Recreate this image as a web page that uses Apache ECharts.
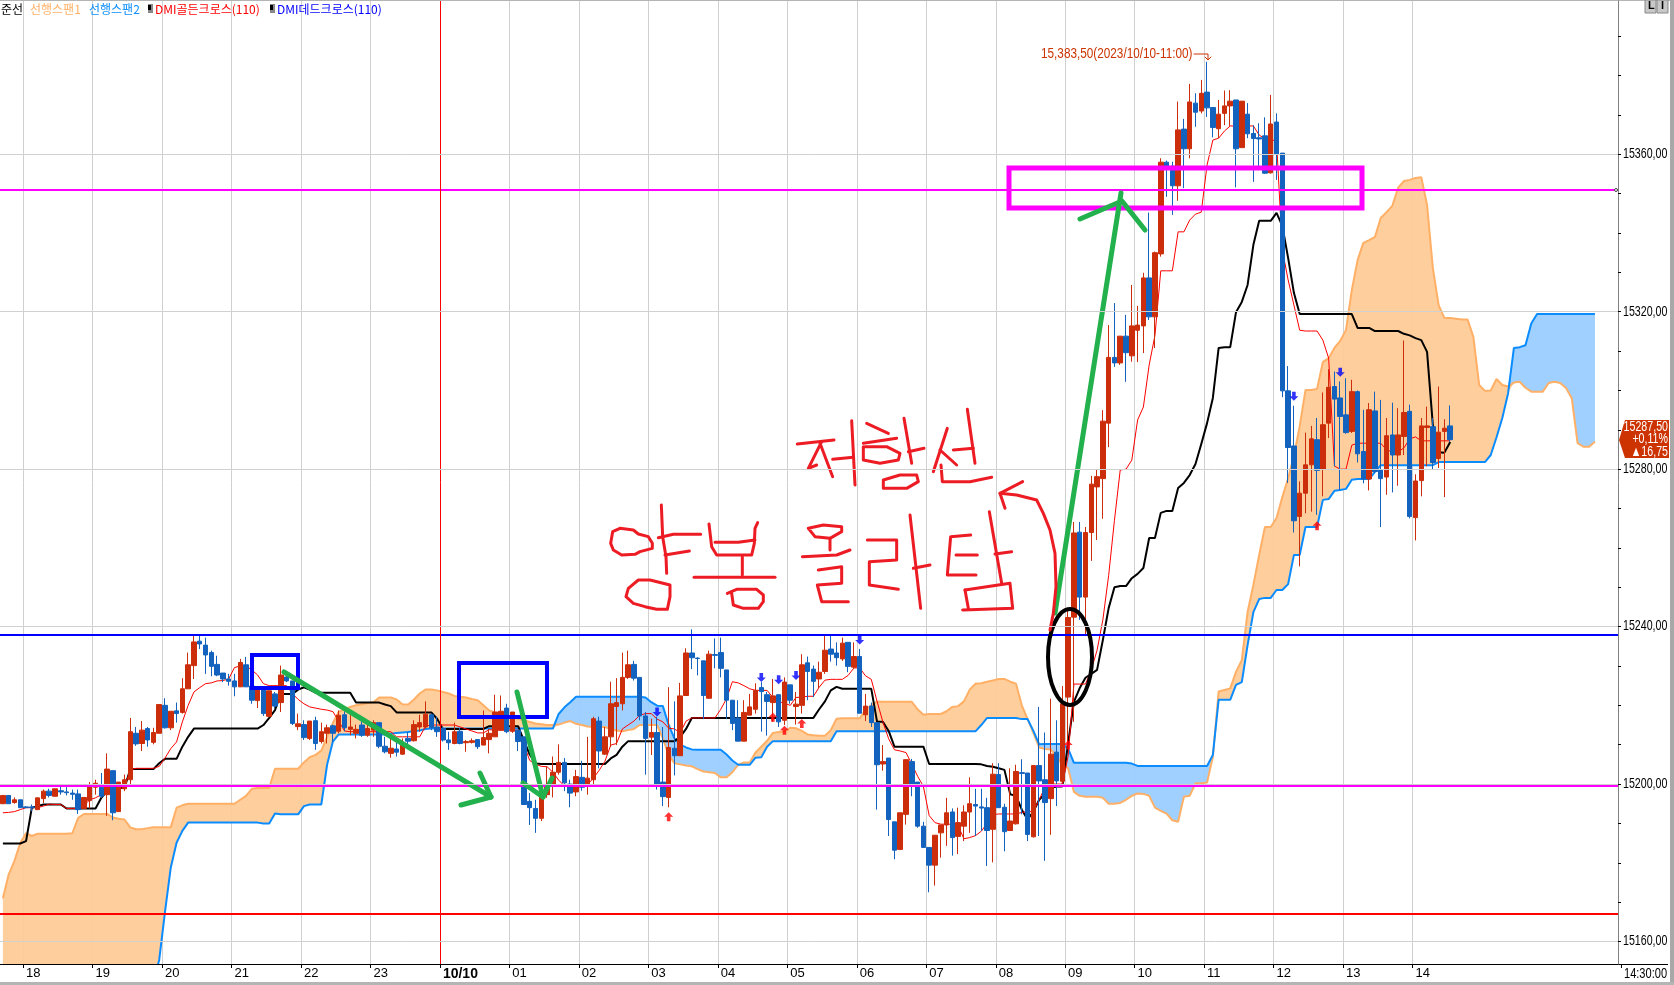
<!DOCTYPE html>
<html><head><meta charset="utf-8">
<style>html,body{margin:0;padding:0;background:#fff}#c{width:1674px;height:985px}</style>
<script src="https://cdn.jsdelivr.net/npm/echarts@6/dist/echarts.min.js"></script>
</head><body><div id="c"></div>
<script>
const tickLabels=['18','19','20','21','22','23','10/10','01','02','03','04','05','06','07','08','09','10','11','12','13','14'];
const priceLabels=[15160,15200,15240,15280,15320,15360];
const minorTicks=[15160,15170,15180,15190,15200,15210,15220,15230,15240,15250,15260,15270,15280,15290,15300,15310,15320,15330,15340,15350,15360,15370,15380,15390];
const hLines=[[15237.9,'#0000ff'],[15351,'#ff00ff'],[15199.5,'#ff00ff'],[15167,'#ff0000']];
const upArrows=[[115,15191.7],[133,15217],[135,15213.7],[138,15215.4],[184,15209.9],[227,15265.6]];
const downArrows=[[113,15218.3],[131,15227.1],[134,15226.5],[137,15227.6],[148,15236.6],[223,15298.5],[231,15304.6]];
// open, close, low, high
const candles=[
[15195,15197.1,15195,15197.1],[15197.1,15195,15195,15197.1],[15195.3,15196,15195,15196.6],[15196,15194,15194,15196],[15194.2,15194,15193.9,15194.4],
[15194.2,15194,15193.1,15194.8],[15193.5,15196.5,15193.5,15196.5],[15196.3,15198.2,15195.2,15198.6],[15198.2,15197.1,15196.6,15198.8],[15196.9,15198.8,15196.9,15198.8],
[15198.3,15198,15197.3,15199.4],[15198,15197.8,15197.1,15199.2],[15197.7,15197.4,15196,15198.6],[15197.5,15193.5,15192.4,15198.6],[15193.8,15196.6,15193.8,15196.6],
[15195.8,15199.4,15193.8,15200.5],[15199.2,15200.2,15197.3,15201.1],[15199.2,15196.9,15196.5,15202.8],[15197.3,15203.8,15191.9,15207.8],[15203.4,15192.7,15190.8,15203.4],
[15193,15200.5,15193,15200.5],[15198.8,15201.1,15198.2,15202.4],[15201.1,15213.3,15200,15216.8],[15212.9,15210.2,15209.7,15214.5],[15210.3,15213.7,15208.4,15216],
[15214.1,15211.2,15209.5,15214.5],[15210.6,15213.1,15210.1,15214.3],[15212.9,15220.2,15212.9,15220.2],[15220,15214.3,15214.1,15221.8],[15214.3,15218.5,15213.7,15218.5],
[15218.6,15217.9,15215.6,15220.7],[15218.2,15224.2,15217.9,15226.9],[15224.2,15230.3,15224.2,15233.4],[15230.1,15236.1,15226.7,15237.6],[15236.3,15235.6,15234.3,15237.6],
[15235.3,15232.8,15228,15237.2],[15233.4,15229.9,15227.4,15233.9],[15230.4,15227.7,15227.4,15232.6],[15228.2,15226.7,15225.9,15228.2],[15226.7,15226.1,15225,15228],
[15226.2,15224.7,15222.3,15228],[15224.7,15230.9,15224.7,15231.8],[15230.3,15224.7,15224.7,15232.3],[15224.9,15221.3,15220.4,15224.9],[15221.2,15224.4,15219.3,15224.4],
[15224.2,15217.9,15217.3,15224.2],[15217.2,15223.7,15217,15223.7],[15222.9,15219.8,15219.2,15223.4],[15220.7,15227.7,15218.3,15230.1],[15227.2,15226.2,15225.9,15228],
[15226.2,15215.4,15215,15226.2],[15214.6,15215.3,15213.7,15217.9],[15215.1,15211.8,15211.2,15216.2],[15211.6,15216,15211.2,15216],[15216.1,15210.3,15208.7,15217.1],
[15210.8,15213.3,15210.3,15215.6],[15212.9,15214.3,15210.3,15215.1],[15214.8,15212.9,15210.6,15215.1],[15213.4,15217.5,15212.9,15218.7],[15217.6,15214.3,15213.4,15218.5],
[15213.9,15214.5,15212.4,15217.5],[15212.9,15213.9,15211.6,15215.1],[15215,15212.4,15212,15216.2],[15212.4,15214.1,15212,15215.4],[15213.7,15215.6,15212,15216.2],
[15215.6,15209.6,15209.1,15215.6],[15209.6,15208.2,15207.8,15212],[15207.8,15209.1,15206.7,15212],[15208.9,15208.1,15207,15211.6],[15207.6,15209.9,15207.4,15211.6],
[15211.6,15210.9,15209.9,15213.3],[15211,15215.1,15210.8,15216.2],[15214.5,15215.6,15213.3,15217.6],[15214.5,15217.7,15214.1,15221],[15217.6,15214.3,15213.7,15217.9],
[15214.5,15213.3,15212,15217.1],[15214.1,15211.2,15210.8,15214.5],[15211.2,15210.5,15208.7,15213.3],[15210.3,15213.3,15210.1,15215.6],[15213.4,15210.3,15210.1,15214.3],
[15210.5,15210.8,15208.2,15211.2],[15210.6,15211,15210.3,15211.6],[15211.3,15209.5,15208.9,15211.3],[15209.9,15211.8,15209.9,15218.7],[15211.3,15212.9,15207.8,15214],
[15212,15218.3,15212,15222.7],[15213.7,15218.5,15213.7,15222.5],[15219.3,15213.3,15212.9,15220.4],[15213.4,15218.3,15213,15218.3],[15213.7,15210.8,15208.4,15213.7],
[15212,15194.8,15194.8,15212],[15195.6,15194,15189.6,15197.7],[15193.8,15191.3,15187.6,15196],[15191.3,15197.3,15190.6,15199.8],[15197.3,15199.4,15196.5,15204.5],
[15199.8,15203,15196.6,15207],[15203,15205.5,15202.4,15210.1],[15205.5,15200.3,15198.2,15206.6],[15200,15197.7,15194.1,15201.1],[15198,15201.9,15196.9,15203.6],
[15201.7,15199.2,15198.3,15205.9],[15199.7,15201.5,15197.3,15212],[15201.1,15216.6,15200,15217.1],[15216,15208.4,15204,15217.1],[15207.6,15212,15207.4,15214.5],
[15212,15220.4,15209.5,15226],[15219.7,15220.7,15209.9,15226.9],[15220.4,15227.1,15218.7,15233.4],[15227.1,15230.3,15226.7,15233.9],[15230.4,15226.9,15226.3,15231.3],
[15227.1,15217.3,15216.2,15227.1],[15217.3,15211.6,15202.4,15218.3],[15211.9,15213.1,15207.4,15216.6],[15213.1,15200,15198.6,15217.1],[15200.5,15196.8,15194.4,15214.5],
[15196.6,15209.3,15194.1,15224.6],[15209.1,15207.2,15202.2,15221],[15207.2,15222.4,15207.2,15225.7],[15222.5,15233.3,15222.5,15234.5],[15233.3,15232.1,15229.2,15239.3],
[15232,15231.9,15227.6,15232.2],[15231.3,15222.5,15216.5,15231.3],[15221.8,15233,15221.7,15233.9],[15232.9,15232.7,15229.4,15237],[15233.4,15229.4,15227.1,15237.2],
[15229,15221.3,15216.5,15229],[15221.3,15215.4,15213.7,15221.3],[15216.8,15210.9,15210.9,15221.3],[15210.9,15218.2,15210.9,15221.3],[15217.5,15219.6,15217.5,15222.9],
[15219,15223.8,15217.9,15225.6],[15224.5,15223.5,15213.3,15225.9],[15222.7,15221,15212.3,15223.4],[15220.7,15222.4,15215.8,15226.7],[15222.7,15215.8,15214.5,15222.7],
[15216.2,15225.9,15215,15227.1],[15225.2,15221.3,15220.4,15225.2],[15219.7,15220.3,15215.1,15223.4],[15220,15230.3,15217.9,15233],[15230.8,15228.6,15221.3,15232.4],
[15229.2,15226.1,15222.1,15230.1],[15226.7,15228.4,15224.4,15231.1],[15228.6,15234,15228,15237.6],[15234.3,15233,15231.1,15237.6],[15233.3,15232.1,15230.1,15236],
[15231.8,15235.8,15231.3,15237.2],[15236,15229.9,15228.4,15236],[15229.7,15232.4,15229.2,15236],[15232.4,15218,15218,15234.3],[15217.6,15219.8,15216,15222.9],
[15219.8,15215.6,15214.5,15220.7],[15215.6,15204.9,15193.5,15215.6],[15205.1,15205.7,15203.4,15209.9],[15206.6,15191,15186.8,15206.6],[15190.4,15183.2,15180.9,15190.4],
[15183.4,15192.7,15183.2,15192.7],[15192.3,15206.2,15189.7,15206.2],[15205.7,15199.7,15196.9,15206.4],[15200.5,15189.3,15188.9,15200.5],[15189.3,15183.9,15183.9,15190.4],
[15183.9,15179.4,15172.5,15183.9],[15179.4,15187,15174.2,15187],[15187.6,15189.6,15181.3,15189.6],[15189.6,15192.7,15184.3,15196.5],[15192.9,15186.4,15181.8,15193.8],
[15186.7,15190.2,15182.2,15194],[15189.3,15192.9,15185.5,15194.6],[15192.9,15195,15187.6,15201.7],[15194.8,15194.4,15186.8,15198.8],[15194.2,15193.9,15188.1,15198.8],
[15194,15188.2,15179.2,15196.5],[15188.5,15202.5,15180.1,15205.3],[15202.4,15194,15194,15205.3],[15194.1,15187.9,15182.9,15195],[15188.2,15190.6,15188.1,15204],
[15189.9,15203.2,15189.7,15204.9],[15202.9,15202.7,15192.3,15206.3],[15202.8,15187.2,15185.5,15202.8],[15186.6,15204.7,15186.4,15204.7],[15204.7,15200.8,15186.8,15219.6],
[15201.1,15195.3,15180.5,15213.1],[15196.3,15207.6,15187.1,15221.7],[15208.1,15200.8,15194.4,15216.2],[15200.7,15220.4,15200.3,15224.9],[15222.1,15242.3,15209.9,15244.4],
[15242.4,15263.8,15215.8,15266.6],[15264,15247.5,15241.7,15266.6],[15247.5,15263.9,15237.9,15265.3],[15263.9,15276.2,15256.7,15278.3],[15275.5,15278.1,15262,15280],
[15277.6,15292.2,15267.4,15295],[15291.7,15308.4,15285.6,15316.6],[15308.4,15307,15306,15322.2],[15307,15313.8,15306.5,15313.8],[15313.8,15309.6,15302.2,15319.2],
[15308.8,15316.4,15307.3,15326.8],[15315.3,15316.6,15307.2,15321.5],[15316.4,15328.6,15309.5,15329.9],[15328.6,15318.7,15317.9,15345.2],[15318.7,15335,15310.8,15335.3],
[15334.7,15358,15334,15359],[15358,15357,15349.2,15358.4],[15357,15352,15344.6,15358.1],[15352,15366.2,15348.2,15373.4],[15366.4,15361.4,15351.4,15369],
[15361.4,15373.3,15359,15377.9],[15373,15370.7,15367,15375.5],[15371,15375.5,15370.4,15378.9],[15375.8,15371.8,15369.5,15383.5],[15371.9,15366.8,15364.3,15371.9],
[15366.5,15370.2,15364.1,15373.8],[15370.4,15372.3,15367.4,15376.2],[15372.3,15373.5,15367.2,15376.3],[15373.8,15361.4,15351.6,15373.8],[15361.7,15373.5,15361.7,15373.5],
[15370.2,15365.2,15364.1,15373],[15365.3,15364,15353,15367.4],[15364.2,15363.9,15356,15367.9],[15364.7,15355.2,15355,15369.4],[15355.3,15367.7,15355.1,15375.1],
[15368.2,15360.1,15353.5,15370.4],[15360.3,15299.9,15298.3,15360.3],[15299.9,15285.5,15276.5,15306.2],[15285.9,15266.9,15263.9,15296.1],[15268,15273.9,15255.3,15276.9],
[15273.9,15281.1,15268.8,15289.3],[15281.1,15287.7,15269.2,15291],[15287.5,15279.7,15268.4,15293],[15280,15291.3,15273.1,15299.5],[15291.7,15300.8,15287.9,15305.4],
[15301,15297.8,15280.7,15304.8],[15298.1,15293.4,15274.7,15302.3],[15293.8,15289.3,15289,15303.1],[15289.6,15299.7,15289.2,15302.7],[15299.7,15283.9,15281.7,15300],
[15284.5,15277.5,15276.4,15295.1],[15277.5,15295.1,15274.6,15296.8],[15294.8,15279.4,15279,15299.7],[15279.8,15277.6,15265.3,15297.6],[15278,15288.5,15273.5,15293],
[15288.7,15283.6,15274.1,15296.9],[15283.6,15288.7,15275.8,15295.5],[15288.3,15294.4,15283.6,15312.7],[15294.7,15268,15267.5,15296.4],[15267.7,15277,15261.9,15278.7],
[15277.1,15291,15273.1,15293],[15290.6,15291,15280.7,15295.9],[15290.8,15281.7,15280,15293],[15282.7,15289.4,15280.3,15301],[15289.6,15290.4,15272.9,15292.7],
[15291,15287.5,15287,15296.2]];
const senkou1=[
15171,15177,15180.5,15185,15187.5,15186.8,15187.4,15187.4,15187.4,15187.4,
15187.4,15187.4,15187.5,15191.4,15192.4,15192.4,15192.4,15192.4,15192.4,15191.5,
15191.2,15191,15189,15188.5,15188.5,15188.8,15189,15189,15189,15189,
15194,15194.6,15195,15195,15195,15195,15195,15195,15195,15195,
15195,15196,15197,15198.8,15199,15199,15199,15203.9,15203.9,15203.9,
15203.9,15203.9,15205.5,15206.8,15207.4,15208.5,15212,15215.5,15218.3,15219,
15219.6,15220,15220.3,15220.6,15220.8,15222,15222,15222,15221.5,15220.3,
15220.2,15221.5,15223,15224,15224,15223.8,15223.4,15223,15222.4,15222.2,
15222,15221.6,15221.3,15220,15218.7,15218.2,15218,15217.5,15217,15216.6,
15216.2,15215.8,15215.4,15215.2,15215,15215,15215.1,15215.6,15216,15215.3,
15215,15214.6,15214.5,15214.5,15214.5,15214,15213.6,15213.4,15213.7,15214,
15215,15215,15215,15215,15211.6,15207.4,15205.3,15205,15204.7,15204.5,
15203.8,15203.2,15203,15202.8,15201.7,15201.7,15203,15204.9,15205.5,15205.5,
15208,15209.5,15211,15213,15213.2,15213.4,15214.3,15214.2,15213.5,15212.6,
15212.4,15212.3,15212.3,15213.7,15216.6,15216.7,15216.7,15216.7,15216.7,15218.8,
15220,15221,15220.9,15220.9,15220.9,15220.9,15220.9,15220.9,15219,15217.6,
15217.8,15217.8,15217.8,15218.5,15219.6,15219.8,15221,15224,15225.5,15225.6,
15226,15226.3,15226.7,15226.7,15226,15225.5,15220,15216.5,15213,15209.3,
15208.9,15208.8,15207,15205,15204,15198,15197,15196.8,15196.8,15196.8,
15196.5,15195,15195,15195.2,15196,15197,15197.6,15197.5,15197,15194,
15193.2,15192.5,15190.8,15190.4,15196.8,15197,15200.2,15200.2,15200.4,15206.9,
15223.5,15223.9,15224.3,15228.5,15231.5,15243.7,15250.6,15258.2,15265.3,15265.3,
15267.6,15272.9,15277.7,15283.3,15290.9,15300.1,15300.1,15300.4,15307.2,15308.2,
15310.8,15312.6,15315.4,15325.5,15333.1,15337.5,15338.2,15339,15343.8,15345.3,
15346.9,15351.5,15353.2,15353.5,15354,15354.2,15347.1,15331.1,15321.7,15318.4,
15318.4,15318.2,15318,15318,15313.6,15301.4,15299.9,15300,15302.9,15301.4,
15301,15302,15302.2,15300.7,15299.7,15299.7,15299.7,15301.9,15302.2,15301.9,
15300.6,15298,15286.6,15285.7,15285.7,15287];
const senkou2=[
15140,15140,15140,15140,15140,15140,15140,15140,15140,15140,
15140,15140,15140,15140,15140,15140,15140,15140,15140,15140,
15140,15140,15140,15140,15140,15140,15150,15155.3,15167.5,15178.8,
15185.1,15188.1,15190.2,15190.2,15190.2,15190.2,15190.2,15190.2,15190.2,15190.2,
15190.2,15190.2,15190.2,15190.2,15190.2,15190,15190,15192.5,15192.3,15192.3,
15192.3,15192.3,15194.4,15194.8,15194.8,15194.8,15204.9,15210.8,15212.6,15212.6,
15212.6,15212.6,15212.6,15212.6,15212.6,15212.6,15212.6,15212.8,15213,15213.1,
15213.2,15213.5,15213.6,15214,15214.1,15214.1,15214.1,15214.1,15214.1,15214.1,
15214.1,15214.1,15214.1,15214.1,15214.1,15214.1,15214.1,15214.1,15214.1,15214.1,
15214.1,15214.1,15214.1,15214.1,15214.1,15214.1,15217.8,15219.5,15220.8,15222.2,
15222.2,15222.2,15222.2,15222.2,15222.2,15222.2,15222.2,15222.2,15222.2,15222.2,
15222.2,15222,15220.8,15219.9,15219.8,15215,15211.6,15210,15209.3,15208.8,
15208.7,15208.7,15208.7,15208.7,15208.7,15207.5,15206,15204.9,15204.9,15204.9,
15206.7,15206.8,15209.5,15210.9,15210.9,15210.9,15210.9,15210.9,15210.9,15210.9,
15210.9,15210.9,15210.9,15210.9,15213.4,15213.4,15213.4,15213.4,15213.4,15213.4,
15213.4,15213.4,15213.4,15213.4,15213.4,15213.4,15213.4,15213.4,15213.4,15213.4,
15213.4,15213.4,15213.4,15213.4,15213.4,15213.4,15213.4,15213.4,15213.4,15215,
15216.8,15216.8,15216.8,15216.8,15216.8,15216.8,15216.5,15216.5,15213.5,15210.1,
15210.2,15210.2,15210.2,15210.2,15209,15205.4,15205.4,15205.4,15205.4,15205.4,
15205.4,15205.4,15205.4,15205.4,15205.4,15205.2,15204.6,15204.6,15204.6,15204.6,
15204.6,15204.6,15204.6,15204.6,15204.6,15204.6,15204.6,15204.6,15204.6,15207.4,
15221.4,15221.4,15221.4,15225.2,15225.9,15235.3,15243.7,15247,15247.3,15247.3,
15249.3,15249.3,15250.8,15258.2,15258.2,15265.3,15265.3,15265.3,15272.2,15272.4,
15274.5,15274.7,15275,15277.3,15277.5,15277.5,15277.5,15279.3,15281,15281,
15281,15281,15281,15281,15281,15281,15281,15281,15281.8,15281.8,
15281.8,15281.8,15281.8,15281.8,15281.8,15281.8,15281.8,15283.6,15288.1,15293,
15299.3,15310.8,15311,15311.5,15317,15319.4,15319.4,15319.4,15319.4,15319.4,
15319.4,15319.4,15319.4,15319.4,15319.4,15319.4];
const blackLine=[
15184.9,15184.9,15184.9,15184.9,15185.5,15194,15194.4,15194.8,15194.8,15194.8,
15194.8,15193.8,15193.8,15193.8,15193.8,15193.8,15193.8,15196.5,15198.2,15198.6,
15199,15199,15203.8,15203.8,15203.8,15203.8,15203.8,15205.3,15206.4,15206.4,
15206.4,15209.5,15212,15214.1,15214.1,15214.1,15214.1,15214.1,15214.1,15214.1,
15214.1,15214.1,15214.1,15214.1,15214.1,15215,15216.8,15218.8,15222.9,15222.9,
15222.9,15224,15224.6,15224,15223.2,15223.2,15223.2,15223.2,15223.2,15223.2,
15223.2,15220.7,15220.7,15220.7,15220.7,15220.7,15220.2,15219.8,15218.2,15218.2,
15218.2,15218.2,15218.2,15218.2,15218.2,15216.6,15214,15214,15214,15214,
15214,15214,15214,15214,15214.7,15214.7,15214.7,15214.7,15214.7,15214.7,
15211,15207.5,15205.2,15205.1,15205.1,15205.1,15205.1,15205.1,15205.1,15205.1,
15205.1,15205.1,15205.1,15205.1,15205.1,15206.5,15207.4,15209.5,15210.9,15210.9,
15210.9,15210.9,15210.9,15210.9,15210.9,15210.9,15210.9,15212,15214,15216.8,
15216.8,15216.8,15216.8,15216.8,15216.8,15216.8,15216.8,15216.8,15216.8,15216.8,
15216.8,15216.8,15216.8,15216.8,15216.8,15216.8,15216.8,15216.8,15216.8,15216.8,
15216.8,15219,15221,15223.8,15224.7,15224.2,15224.2,15224.2,15224.2,15224.2,
15224.2,15215.8,15215.8,15213.5,15209.5,15209.5,15209.5,15209.5,15209.5,15209.5,
15205.1,15205.1,15205.1,15205.1,15205.1,15205.1,15205.1,15205.1,15205.1,15205,
15204.6,15204.4,15204,15203.6,15197.4,15197,15193.5,15191,15193,15196,
15197.5,15199,15199.4,15199.4,15210.4,15220.9,15224.4,15227,15228,15229,
15236.6,15244.7,15250,15250.3,15250.3,15252.3,15253.4,15254.9,15262.5,15262.5,
15268.9,15269.4,15269.4,15275.2,15276.5,15278.5,15281.3,15286.4,15291.7,15298.1,
15310.8,15311,15311,15319.9,15322.5,15326.8,15337,15343.1,15343.1,15343.1,
15345.1,15341.8,15333.7,15324.8,15319.4,15319.4,15319.4,15319.4,15319.4,15319.4,
15319.4,15319.4,15319.4,15319.4,15315.9,15315.9,15315.9,15315.1,15315.1,15315.1,
15315.1,15315.1,15314.4,15314,15313.3,15312.8,15309.8,15291.2,15284.3,15284.2,15286.9];
const redLine=[
15192.7,15192.8,15193,15193.5,15194,15194,15194,15194.4,15194.9,15194.8,
15194.8,15193.8,15193.8,15193.8,15194.5,15196,15196.5,15197.3,15198.9,15199,
15199,15199,15203.7,15204,15204,15204,15204,15204.5,15206.6,15209,
15210.7,15215.8,15220,15223.4,15224.5,15225.5,15225.7,15226.2,15226.3,15226.7,
15229.6,15230,15230,15229,15227.7,15225.5,15225,15225,15225,15225,
15223,15221.5,15220.4,15219.6,15219.3,15219,15218.8,15218.4,15216,15213.5,
15213.3,15213.3,15213.3,15213.3,15213.3,15213.3,15213.3,15213.3,15212,15212,
15212,15212,15212,15214.7,15215,15215,15215,15215,15215,15214.5,
15214,15213.5,15213,15213,15213.8,15213.7,15213.7,15213.7,15213.7,15213.7,
15210,15206,15205,15204.5,15204.4,15203,15201,15199.5,15199.8,15199,
15199.5,15199.9,15201.5,15203.5,15205.8,15209.9,15210.3,15214,15215,15216,
15217.5,15217.9,15217.9,15216.5,15215.8,15214.2,15214,15213,15216,15216.8,
15216.8,15216.8,15216.8,15216.8,15219,15221.7,15226,15225.7,15225,15224.2,
15223.8,15223.8,15223.8,15222,15221,15220.5,15220,15222,15222.1,15222.3,
15222.3,15224.6,15226.4,15226.6,15226.6,15226.6,15227.6,15229.5,15229.5,15227.5,
15226.6,15221,15215.8,15211.5,15208.7,15208.4,15208,15205,15202,15199.4,
15192,15190.2,15189.8,15189.8,15189.8,15189.4,15186.1,15186.4,15186.9,15188,
15190,15192.2,15192.4,15192.4,15192.4,15192.4,15192.8,15193,15193,15196,
15199.2,15200,15200,15200,15207,15225.4,15225.4,15225.4,15229,15234,
15241.7,15253,15267,15279.8,15280,15282.3,15292.5,15295.8,15306.5,15314,
15330.4,15330.4,15330.4,15340.3,15340.3,15343.3,15344.8,15345.3,15357.3,15363.6,
15364.1,15365.9,15367.2,15367.2,15367.2,15367.2,15367.2,15364.9,15363.9,15363.7,
15363.4,15335.7,15328.1,15321.7,15315.3,15315.1,15315.1,15315.1,15312.8,15308.2,
15280.8,15280,15280,15286.1,15286.6,15286.6,15286.6,15286.6,15286.6,15284.9,
15284.4,15284.4,15285.4,15287.7,15288.2,15287.2,15287.2,15287.2,15287.2,15287.2,15287.2];

const BAR_COUNT=280, FIRST_TICK=4, PER_HOUR=12;
const isTick=i=>i>=FIRST_TICK&&(i-FIRST_TICK)%PER_HOUR===0&&(i-FIRST_TICK)/PER_HOUR<tickLabels.length;
const categories=Array.from({length:BAR_COUNT},(_,i)=>isTick(i)?tickLabels[(i-FIRST_TICK)/PER_HOUR]:'c'+i);
const cloudBase=senkou1.map((v,i)=>Math.min(v,senkou2[i]));
const cloudUp=senkou1.map((v,i)=>Math.max(v-senkou2[i],0));
const cloudDown=senkou1.map((v,i)=>Math.max(senkou2[i]-v,0));
const SANS="'Liberation Sans',sans-serif";
const KR="'Noto Sans CJK KR',sans-serif";
const HAND='#ed1c24', GREEN='#22b14c';
const poly=(pts,color,w,z)=>({type:'polyline',z:z||8,shape:{points:pts},style:{stroke:color,fill:null,lineWidth:w,lineJoin:'round',lineCap:'round'},silent:true});
const txt=(x,y,s,color,extra)=>Object.assign({type:'text',x,y,z:9,silent:true,style:Object.assign({text:s,fill:color,font:"12px "+KR,textVerticalAlign:'middle'},extra&&extra.style||{})},extra&&extra.el||{});
const strokes3x=[
[[172,132],[282,120]],[[245,125],[205,205],[230,195]],[[240,130],[278,230]],[[278,178],[340,172]],[[335,62],[345,255]],
[[380,70],[445,100]],[[370,130],[470,115]],[[375,140],[440,140],[480,160],[475,180],[420,190],[370,180],[370,140]],[[492,55],[515,190]],[[505,155],[552,145]],[[430,240],[480,225],[530,225],[535,245],[500,265],[430,265],[430,240]],
[[622,85],[580,215]],[[600,150],[650,195]],[[640,150],[700,145]],[[682,28],[705,190]],[[603,195],[607,245],[690,245],[755,232]],
[[848,245],[780,280],[795,325]],[[780,280],[830,285],[890,300],[910,340],[930,390],[945,460],[948,560],[940,640],[930,690]],
[[205,385],[250,375],[305,380],[305,395],[270,415],[225,410],[205,385]],[[270,415],[270,450]],[[187,470],[290,465],[330,450]],[[235,510],[305,500],[305,550],[232,555],[245,605],[325,605]],
[[382,420],[470,420],[470,480],[388,485],[388,555],[475,568]],[[510,345],[542,625]],[[520,505],[570,495]],
[[692,405],[632,410],[622,525],[708,525]],[[648,465],[712,465]],[[748,335],[785,550]],[[765,462],[815,455]],[[675,570],[810,550],[818,625],[668,630]],[[675,570],[685,625]]
];
const strokesB=[
[[90,85],[130,90],[145,102],[175,110],[187,130],[187,145],[150,155],[135,163],[95,165],[70,150],[62,130],[68,95],[90,85]],
[[214,15],[218,110],[228,170],[230,220]],[[205,113],[250,103],[332,103]],[[225,165],[298,153]],
[[145,240],[180,240],[240,255],[240,290],[232,328],[200,328],[165,320],[130,310],[108,290],[115,265],[145,240]],
[[357,72],[365,140],[380,165],[485,165],[493,130],[495,85],[503,68]],[[375,127],[445,127],[495,120]],
[[457,170],[457,225]],[[312,232],[555,232]],
[[412,280],[440,268],[500,268],[520,285],[520,305],[505,325],[460,325],[430,315],[425,280]]
];
const scaled=(list,ox,oy)=>list.map(s=>poly(s.map(p=>[ox+p[0]/3,oy+p[1]/3]),HAND,3));
const condensed=(x,y,s,color,sx,extra)=>txt(x,y,s,color,{style:Object.assign({font:"14px "+SANS},extra||{}),el:{scaleX:sx,z:(extra&&extra.zz)||9}});
const graphics=[
 {type:'rect',z:7,shape:{x:1618.5,y:0,width:4,height:964},style:{fill:'#fff'},silent:true},
 {type:'line',z:8,shape:{x1:440.5,y1:1,x2:440.5,y2:964},style:{stroke:'#ff0000',lineWidth:1},silent:true},
 {type:'line',z:8,shape:{x1:0,y1:964.5,x2:1668,y2:964.5},style:{stroke:'#000',lineWidth:1},silent:true},
 {type:'rect',z:8,shape:{x:0,y:0,width:1674,height:1},style:{fill:'#b4b4b4'},silent:true},
 {type:'rect',z:8,shape:{x:1670,y:0,width:4,height:985},style:{fill:'#a8a8a8'},silent:true},
 {type:'rect',z:8,shape:{x:0,y:982,width:1674,height:3},style:{fill:'#b4b4b4'},silent:true},
 {type:'rect',z:8,shape:{x:252,y:655,width:46,height:33},style:{stroke:'#0000ff',fill:null,lineWidth:4},silent:true},
 {type:'rect',z:8,shape:{x:459,y:663,width:88,height:54},style:{stroke:'#0000ff',fill:null,lineWidth:4},silent:true},
 {type:'rect',z:8,shape:{x:1009,y:168,width:353,height:40},style:{stroke:'#ff00ff',fill:null,lineWidth:5},silent:true},
 {type:'ellipse',z:8,shape:{cx:1070,cy:657,rx:22,ry:48},style:{stroke:'#000',fill:null,lineWidth:4},silent:true},
 poly([[284,672],[491,797]],GREEN,5),poly([[480,773],[491,797],[461,805]],GREEN,5),
 poly([[517,692],[543,797]],GREEN,5),poly([[523,783],[543,797],[552,778]],GREEN,5),
 poly([[1055,613],[1121,193]],GREEN,5),poly([[1080,219],[1122,201],[1145,230]],GREEN,5),
 ...scaled(strokes3x,740,400),...scaled(strokesB,590,500),
 txt(1,9,'준선','#000'),txt(30,9,'선행스팬1','#ffb066'),txt(89,9,'선행스팬2','#0a8cff'),
 {type:'rect',z:9,shape:{x:148,y:4,width:5,height:9},style:{fill:'#888'},silent:true},{type:'rect',z:9,shape:{x:148,y:5,width:3,height:5},style:{fill:'#000'},silent:true},
 txt(155,9,'DMI골든크로스(110)','#ff0000'),
 {type:'rect',z:9,shape:{x:270,y:4,width:5,height:9},style:{fill:'#888'},silent:true},{type:'rect',z:9,shape:{x:270,y:5,width:3,height:5},style:{fill:'#000'},silent:true},
 txt(277,9,'DMI데드크로스(110)','#0000ff'),
 condensed(1041,54,'15,383,50(2023/10/10-11:00)','#cc3300',0.84),
 poly([[1194,54],[1208,54],[1208,59]],'#cc3300',1),poly([[1205,57],[1208,60],[1211,57]],'#cc3300',1),
 {type:'rect',z:9,shape:{x:1645,y:0,width:11,height:13},style:{fill:'#c8c8c8',stroke:'#888',lineWidth:1},silent:true},
 {type:'rect',z:9,shape:{x:1657,y:0,width:11,height:13},style:{fill:'#c8c8c8',stroke:'#888',lineWidth:1},silent:true},
 txt(1648,6,'L','#000',{style:{font:"bold 11px "+SANS}}),txt(1661,6,'I','#000',{style:{font:"bold 11px "+SANS}}),
 {type:'circle',z:9,shape:{cx:1616,cy:190,r:1.5},style:{fill:'#fff',stroke:'#444',lineWidth:1},silent:true},
 {type:'polygon',z:11,shape:{points:[[1619,440],[1625,420],[1669,420],[1669,458],[1625,458]]},style:{fill:'#cc3300'},silent:true},
 condensed(1668,427,'15287,50','#fff',0.76,{textAlign:'right',zz:12}),
 condensed(1668,439.5,'+0,11%','#fff',0.76,{textAlign:'right',zz:12}),
 condensed(1668,452,'▲16,75','#fff',0.76,{textAlign:'right',zz:12}),
 condensed(1624,974,'14:30:00','#000',0.79)
];
const lineSeries=(name,data,color,width,z)=>({name,type:'line',data,symbol:'none',z,silent:true,animation:false,lineStyle:{color,width},itemStyle:{color}});
const areaSeries=(name,data,color)=>({name,type:'line',stack:'cloud',data,symbol:'none',z:1,silent:true,animation:false,lineStyle:{width:0,opacity:0},areaStyle:color?{color,opacity:0.93}:undefined});
const option={
 animation:false,backgroundColor:'#fff',
 grid:{left:0,top:1,width:1621,height:963,containLabel:false,outerBoundsMode:'none'},
 xAxis:{type:'category',data:categories,boundaryGap:true,
  axisLine:{show:true,lineStyle:{color:'#000',width:1}},
  axisTick:{show:true,interval:isTick,length:4,lineStyle:{color:'#000'}},
  splitLine:{show:true,interval:isTick,lineStyle:{color:'#d0d0d0',width:1}},
  axisLabel:{show:true,interval:isTick,align:'left',margin:3,color:'#000',fontFamily:SANS,fontSize:13,
   formatter:v=>v==='10/10'?'{b|10/10}':v,rich:{b:{fontWeight:'bold',fontFamily:SANS,fontSize:14,color:'#000'}}}},
 yAxis:[
  {type:'value',position:'right',offset:-3,min:15154.28,max:15398.95,z:10,scale:true,
   axisLine:{show:true,onZero:false,lineStyle:{color:'#808080',width:1}},
   axisTick:{show:false,customValues:priceLabels},
   splitLine:{show:true,lineStyle:{color:'#d0d0d0',width:1}},
   axisLabel:{show:false,customValues:priceLabels}},
  {type:'value',position:'right',offset:-3,min:15154.28,max:15398.95,z:10,scale:true,
   axisLine:{show:false},axisLabel:{show:false},splitLine:{show:false},
   axisTick:{show:true,length:3,customValues:minorTicks,lineStyle:{color:'#000'}}}
 ],
 series:[
  areaSeries('base',cloudBase,null),
  areaSeries('upCloud',cloudUp,'#ffca96'),
  areaSeries('downCloud',cloudDown,'#99ccff'),
  lineSeries('선행스팬1',senkou1,'#ffb066',2,2),
  lineSeries('선행스팬2',senkou2,'#0a8cff',2,2),
  lineSeries('기준선',blackLine,'#000',2,3),
  lineSeries('전환선',redLine,'#ff0000',1,3),
  {name:'준선',type:'candlestick',data:candles,z:4,barWidth:5,silent:true,animation:false,
   itemStyle:{color:'#cc2d0a',color0:'#1262be',borderColor:'#cc2d0a',borderColor0:'#1262be',borderWidth:1}},
  {name:'DMI골든크로스(110)',type:'scatter',data:upArrows,z:5,silent:true,animation:false,symbol:'path://M5 0 L10 5 L7 5 L7 10 L3 10 L3 5 L0 5 Z',symbolSize:9,itemStyle:{color:'#ff0000'}},
  {name:'DMI데드크로스(110)',type:'scatter',data:downArrows,z:5,silent:true,animation:false,symbol:'path://M3 0 L7 0 L7 5 L10 5 L5 10 L0 5 L3 5 Z',symbolSize:9,itemStyle:{color:'#0000ff'}},
  {name:'levels',type:'line',data:[],z:6,silent:true,animation:false,
   markLine:{silent:true,symbol:'none',animation:false,label:{show:false},data:hLines.map(h=>({yAxis:h[0],lineStyle:{color:h[1],width:2,type:'solid'}}))}}
 ]
};
const chart=echarts.init(document.getElementById('c'),null,{renderer:'canvas'});
chart.setOption(option);
const priceText=priceLabels.map(v=>condensed(1623,chart.convertToPixel({yAxisIndex:0},v),v.toFixed(2).replace('.',','),'#000',0.76));
chart.setOption({graphic:{elements:graphics.concat(priceText)}});
</script></body></html>
